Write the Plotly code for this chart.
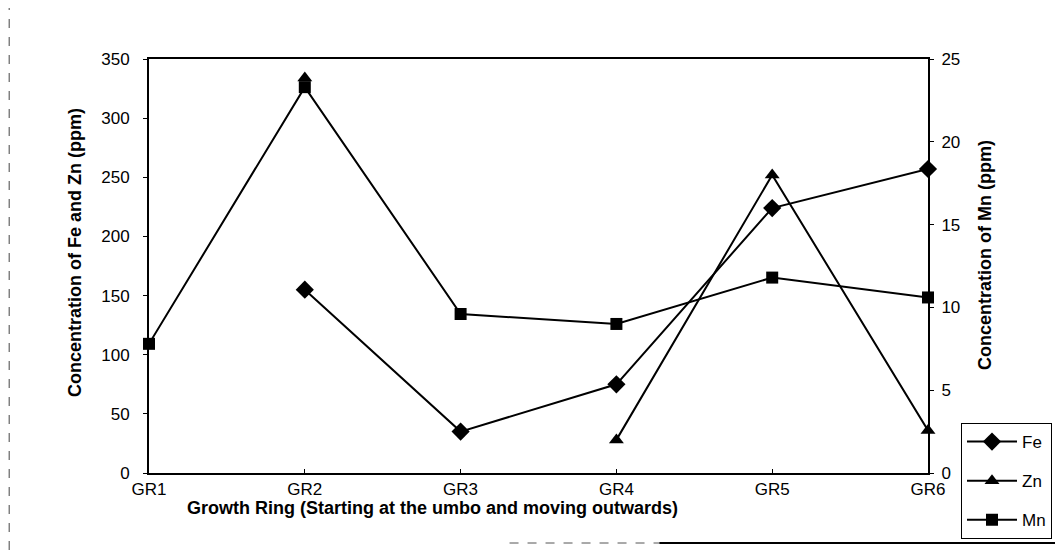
import plotly.graph_objects as go

# Data
rings = ['GR1', 'GR2', 'GR3', 'GR4', 'GR5', 'GR6']
fe = [None, 155, 35, 75, 224, 257]
zn = [None, 334, None, 28, 252, 36]
mn = [7.8, 23.3, 9.6, 9.0, 11.8, 10.6]

# page has an 8px body margin, so the figure is drawn 8px in from the corner
OFF = 8
W, H = 1063 - OFF, 555 - OFF
L, R, T, B = 149 - OFF, 1063 - 929, 59 - OFF, 555 - 473
PW, PH = W - L - R, H - T - B
font = 'Liberation Sans, Arial, sans-serif'


def px(x):
    # page x pixel -> paper x
    return (x - OFF - L) / PW


def py(y):
    # page y pixel -> paper y
    return (H - B - (y - OFF)) / PH


fig = go.Figure()

fig.add_trace(go.Scatter(
    x=rings, y=fe, name='Fe', mode='lines+markers', legendgroup='fe',
    line=dict(color='black', width=2),
    marker=dict(symbol='diamond', size=14, color='black'),
    cliponaxis=False
))
fig.add_trace(go.Scatter(
    x=rings, y=zn, name='Zn', mode='lines+markers', legendgroup='zn',
    line=dict(color='black', width=2),
    marker=dict(symbol='triangle-up', size=13, color='black'),
    connectgaps=False, cliponaxis=False
))
fig.add_trace(go.Scatter(
    x=rings, y=mn, name='Mn', mode='lines+markers', yaxis='y2', legendgroup='mn',
    line=dict(color='black', width=2),
    marker=dict(symbol='square', size=12, color='black'),
    cliponaxis=False
))

fig.update_layout(
    width=W, height=H,
    margin=dict(l=L, r=R, t=T, b=B),
    paper_bgcolor='white', plot_bgcolor='white',
    font=dict(family=font, size=17, color='black'),
    xaxis=dict(
        type='category', range=[0, 5],
        showline=True, linecolor='black', linewidth=2, mirror=True,
        ticks='inside', ticklen=4, tickcolor='black',
        showgrid=False, zeroline=False,
        tickfont=dict(size=17),
    ),
    yaxis=dict(
        range=[0, 350], dtick=50,
        showline=True, linecolor='black', linewidth=2,
        ticks='outside', ticklen=4, tickcolor='black',
        ticklabelstandoff=10,
        showgrid=False, zeroline=False,
        tickfont=dict(size=17),
    ),
    yaxis2=dict(
        range=[0, 25], dtick=5, overlaying='y', side='right',
        showline=True, linecolor='black', linewidth=2,
        ticks='outside', ticklen=4, tickcolor='black',
        ticklabelstandoff=4,
        showgrid=False, zeroline=False,
        tickfont=dict(size=17),
    ),
    legend=dict(
        x=px(961), y=py(423),
        xanchor='left', yanchor='top',
        bordercolor='black', borderwidth=1, bgcolor='white',
        font=dict(size=17), itemwidth=50, tracegroupgap=14,
    ),
    showlegend=True,
)

# axis titles
fig.add_annotation(
    text='<b>Concentration of Fe and Zn (ppm)</b>', textangle=-90,
    xref='paper', yref='paper', x=px(75), y=py(253),
    xanchor='center', yanchor='middle',
    showarrow=False, font=dict(size=18)
)
fig.add_annotation(
    text='<b>Concentration of Mn (ppm)</b>', textangle=-90,
    xref='paper', yref='paper', x=px(986), y=py(255),
    xanchor='center', yanchor='middle',
    showarrow=False, font=dict(size=18)
)
fig.add_annotation(
    text='<b>Growth Ring (Starting at the umbo and moving outwards)</b>',
    xref='paper', yref='paper', x=px(433), y=py(508),
    xanchor='center', yanchor='middle',
    showarrow=False, font=dict(size=18)
)

# scanned page frame
fig.add_shape(type='line', xref='paper', yref='paper',
              x0=px(9), x1=px(9), y0=py(550), y1=py(8),
              line=dict(color='#444', width=1, dash='dash'))
fig.add_shape(type='line', xref='paper', yref='paper',
              x0=px(510), x1=px(660), y0=py(543), y1=py(543),
              line=dict(color='#555', width=1, dash='dash'))
fig.add_shape(type='line', xref='paper', yref='paper',
              x0=px(660), x1=px(1063), y0=py(543), y1=py(543),
              line=dict(color='black', width=2))

fig.write_html('out.html')
